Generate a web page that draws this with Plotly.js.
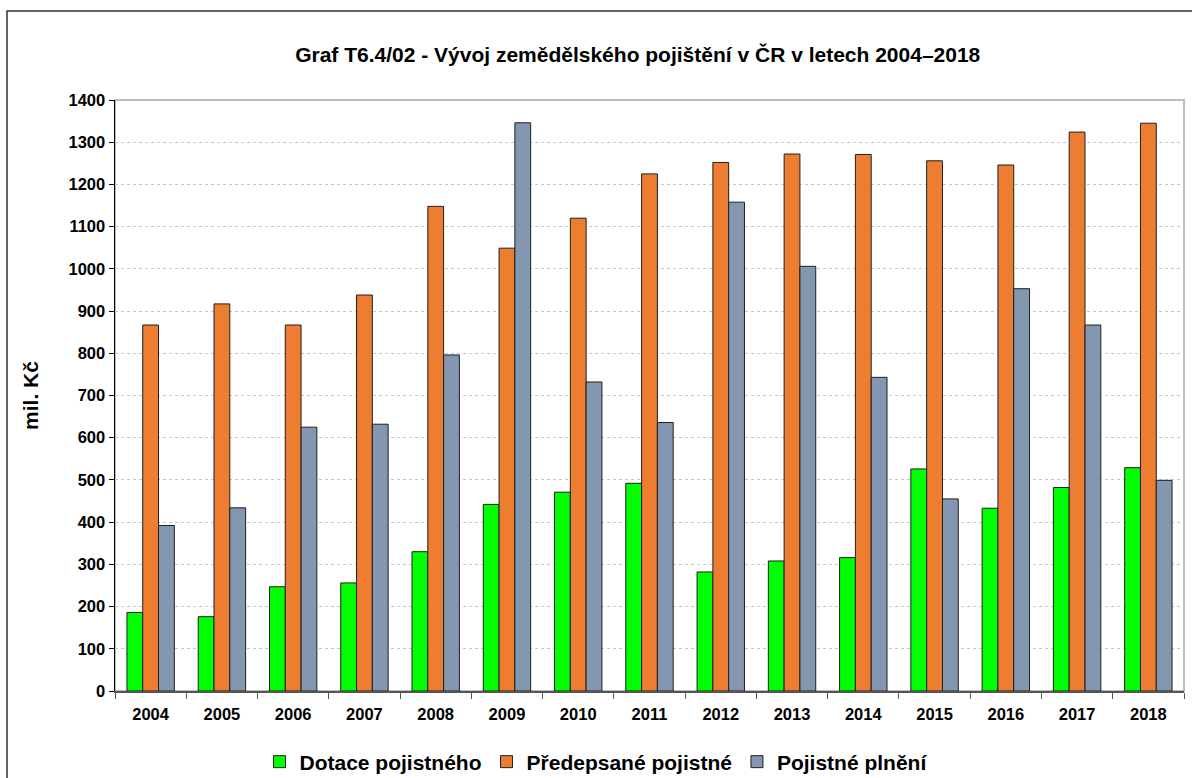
<!DOCTYPE html>
<html>
<head>
<meta charset="utf-8">
<script src="https://cdn.plot.ly/plotly-3.0.1.min.js"></script>
<style>
  html, body { margin: 0; padding: 0; background: #fff; }
  #chart { width: 1192px; height: 778px; }
</style>
</head>
<body>
<div id="chart"></div>
<script>
const years = ['2004','2005','2006','2007','2008','2009','2010','2011','2012','2013','2014','2015','2016','2017','2018'];
const dotace = [186,176,247,256,330,442,471,492,282,308,316,526,433,482,529];
const predepsane = [867,917,867,938,1148,1049,1120,1225,1252,1272,1271,1256,1246,1324,1345];
const plneni = [392,434,625,632,796,1346,732,636,1158,1006,743,455,953,867,499];
const seriesNames = ['Dotace pojistného', 'Předepsané pojistné', 'Pojistné plnění'];
const yTicks = [0,100,200,300,400,500,600,700,800,900,1000,1100,1200,1300,1400];

const FONT = 'Liberation Sans, Arial, sans-serif';
const outline = {color: '#1f1f1f', width: 1};

const traces = [
  {type: 'bar', name: seriesNames[0], x: years, y: dotace, marker: {color: '#00ff00', line: outline}},
  {type: 'bar', name: seriesNames[1], x: years, y: predepsane, marker: {color: '#ed7d31', line: outline}},
  {type: 'bar', name: seriesNames[2], x: years, y: plneni, marker: {color: '#8497b0', line: outline}}
];

const layout = {
  width: 1192, height: 778,
  margin: {l: 115, r: 8, t: 100, b: 87, autoexpand: false},
  paper_bgcolor: '#ffffff', plot_bgcolor: '#ffffff',
  font: {family: FONT, color: '#000', size: 16},
  barmode: 'group', bargap: 0.335, bargroupgap: 0,
  title: {
    text: '<b>Graf T6.4/02 - Vývoj zemědělského pojištění v ČR v letech 2004–2018</b>',
    font: {family: FONT, size: 21, color: '#000'},
    xref: 'container', yref: 'container', x: 0.535, y: 1 - 55/778, xanchor: 'center', yanchor: 'middle'
  },
  xaxis: {
    type: 'category', tickson: 'boundaries', ticks: 'outside', ticklen: 6, tickcolor: '#555',
    ticklabelstandoff: 8,
    showline: true, linecolor: '#555', linewidth: 1.5,
    tickfont: {family: FONT, size: 16.5, color: '#000', weight: 'bold'},
    showgrid: false, fixedrange: true
  },
  yaxis: {
    range: [0, 1400], tickvals: yTicks, ticktext: yTicks.map(String),
    ticks: 'outside', ticklen: 5, tickcolor: '#000',
    showline: true, linecolor: '#000', linewidth: 1.5,
    showgrid: true, gridcolor: '#c8c8c8', griddash: 'dot', gridwidth: 1,
    zeroline: false,
    tickfont: {family: FONT, size: 16.5, color: '#000', weight: 'bold'},
    title: {text: '<b>mil. Kč</b>', font: {family: FONT, size: 21, color: '#000'}, standoff: 24},
    fixedrange: true
  },
  legend: {
    orientation: 'h', x: (596-115)/1069, xanchor: 'center', y: -(762-691)/591, yanchor: 'middle',
    font: {family: FONT, size: 21, color: '#000', weight: 'bold'},
    itemclick: false, itemdoubleclick: false
  },
  shapes: [
    {type: 'rect', xref: 'paper', yref: 'paper', x0: 0, x1: 1, y0: 0, y1: 1,
     line: {color: '#a6a6a6', width: 1.5}, layer: 'below'},
    {type: 'rect', xref: 'paper', yref: 'paper', x0: (7-115)/1069, x1: (1200-115)/1069,
     y0: (691-790)/591, y1: (691-11)/591, line: {color: '#333', width: 1.5}, layer: 'below'}
  ]
};

Plotly.newPlot('chart', traces, layout, {displayModeBar: false, responsive: false, staticPlot: true});
</script>
</body>
</html>
